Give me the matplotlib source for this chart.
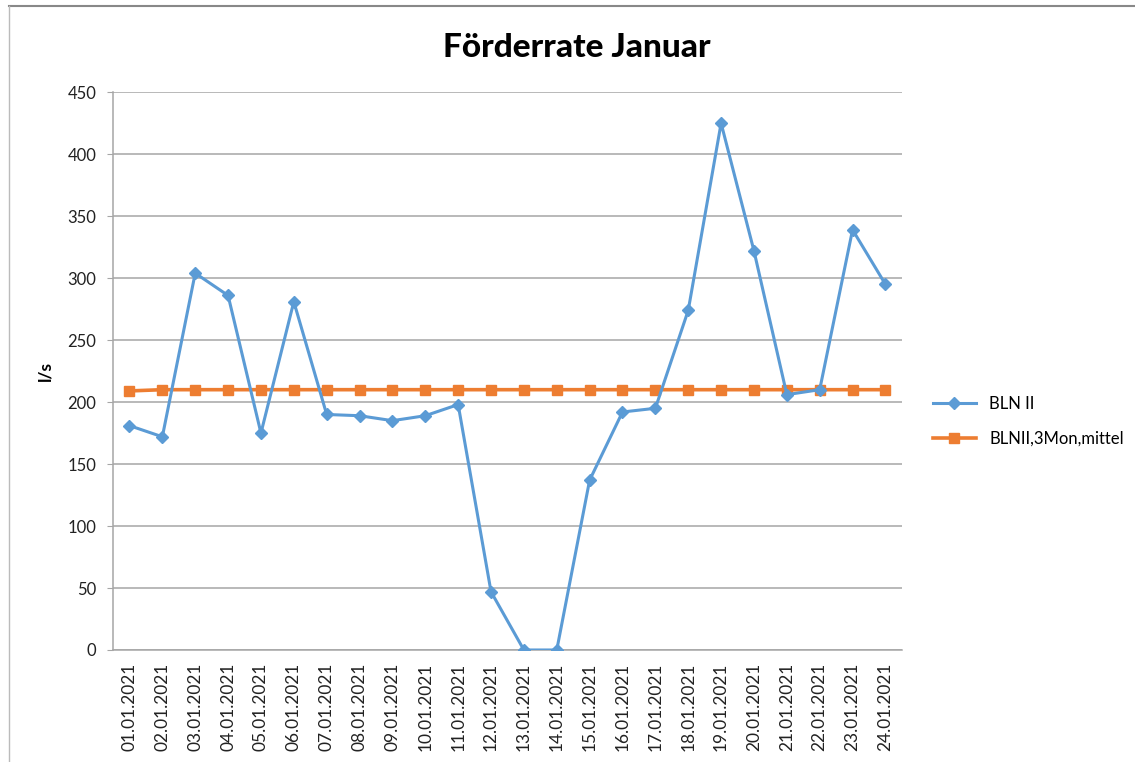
import matplotlib
matplotlib.use("Agg")
import matplotlib.pyplot as plt
from matplotlib.lines import Line2D

plt.rcParams["font.family"] = ["Lato", "DejaVu Sans"]

dates = [f"{d:02d}.01.2021" for d in range(1, 25)]
bln_ii = [181, 172, 304, 286, 175, 281, 190, 189, 185, 189, 198, 47,
          0, 0, 137, 192, 195, 274, 425, 322, 206, 210, 339, 295]
bln_mittel = [209, 210, 210, 210, 210, 210, 210, 210, 210, 210, 210, 210,
              210, 210, 210, 210, 210, 210, 210, 210, 210, 210, 210, 210]

BLUE = "#5B9BD5"
ORANGE = "#ED7D31"
GRID = "#A6A6A6"

fig = plt.figure(figsize=(11.35, 7.62), dpi=100)
ax = fig.add_axes([0.0996, 0.147, 0.695, 0.732])

x = list(range(len(dates)))
ax.plot(x, bln_ii, color=BLUE, linewidth=2.2, marker="D", markersize=6.5,
        label="BLN II", zorder=3)
ax.plot(x, bln_mittel, color=ORANGE, linewidth=2.6, marker="s", markersize=7,
        label="BLNII,3Mon,mittel", zorder=2)

ax.set_xlim(-0.5, len(dates) - 0.5)
ax.set_ylim(0, 450)
ax.set_yticks(range(0, 451, 50))
ax.set_xticks(x)
ax.set_xticklabels(dates, rotation=90, fontsize=12.5, color="#222222")
ax.tick_params(axis="x", length=0, pad=9)
ax.tick_params(axis="y", length=4, color=GRID, labelsize=12, labelcolor="#222222", pad=8)
ax.yaxis.grid(True, color=GRID, linewidth=1.1)
ax.set_axisbelow(True)
for side in ("top", "right"):
    ax.spines[side].set_visible(False)
for side in ("left", "bottom"):
    ax.spines[side].set_color(GRID)
    ax.spines[side].set_linewidth(1.1)

ax.set_ylabel("l/s", fontsize=12.5, fontweight="bold", labelpad=10)
fig.text(0.508, 0.938, "Förderrate Januar", ha="center", va="center",
         fontsize=24, fontweight="black")

ax.legend(loc="center left", bbox_to_anchor=(1.02, 0.41), frameon=False,
          fontsize=12, labelspacing=1.15, handlelength=2.6)

fig.add_artist(Line2D([0.008, 1.0], [0.992, 0.992], transform=fig.transFigure,
                      color="#888888", linewidth=1.5))
fig.add_artist(Line2D([0.008, 0.008], [0.0, 0.992], transform=fig.transFigure,
                      color="#BBBBBB", linewidth=1.0))

fig.savefig("out.png", dpi=100, facecolor="white")
